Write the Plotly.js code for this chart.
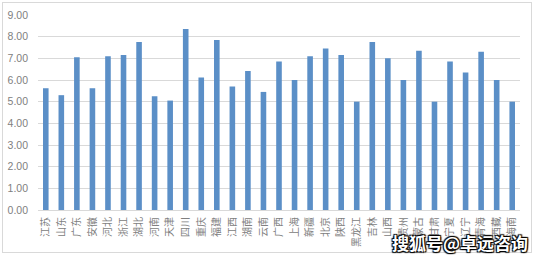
<!DOCTYPE html>
<html>
<head>
<meta charset="utf-8">
<script src="https://cdn.plot.ly/plotly-3.0.1.min.js"></script>
<style>
html,body{margin:0;padding:0;background:#fff;}
#frame{position:absolute;left:2px;top:2px;width:530px;height:251px;border:1px solid #d9d9d9;box-sizing:border-box;}
#chart{position:absolute;left:0;top:0;width:535px;height:257px;}
</style>
</head>
<body>
<div id="frame"></div>
<div id="chart"></div>
<script>
const provinces = ["江苏","山东","广东","安徽","河北","浙江","湖北","河南","天津","四川","重庆","福建","江西","湖南","云南","广西","上海","新疆","北京","陕西","黑龙江","吉林","山西","贵州","内蒙古","甘肃","宁夏","辽宁","青海","西藏","海南"];
const values = [5.62,5.30,7.05,5.62,7.10,7.15,7.75,5.25,5.05,8.35,6.12,7.85,5.70,6.42,5.45,6.85,6.00,7.10,7.45,7.15,5.00,7.75,7.00,6.00,7.35,5.00,6.85,6.35,7.30,6.00,5.00];
const yTicks = [0,1,2,3,4,5,6,7,8,9];

const trace = {
  type: 'bar',
  x: provinces,
  y: values,
  marker: {color: '#5b8fc7'},
  width: 0.36,
  hoverinfo: 'x+y'
};

const layout = {
  width: 535, height: 257,
  margin: {l: 38, r: 15, t: 15, b: 47},
  paper_bgcolor: 'rgba(0,0,0,0)',
  plot_bgcolor: 'rgba(0,0,0,0)',
  showlegend: false,
  font: {family: '"Noto Sans CJK SC", "Liberation Sans", sans-serif', color: '#808080', size: 10},
  xaxis: {
    type: 'category',
    tickangle: -90,
    showline: true, linecolor: '#d9d9d9', linewidth: 1,
    ticks: '', showgrid: false,
    tickfont: {size: 10, color: '#808080', family: '"Noto Sans CJK SC", sans-serif'},
    ticklabelstandoff: 2
  },
  yaxis: {
    range: [0, 9],
    tickvals: yTicks,
    ticktext: yTicks.map(v => v.toFixed(2)),
    showgrid: true, gridcolor: '#d9d9d9', gridwidth: 1,
    zeroline: false, showline: false, ticks: '',
    tickfont: {size: 10.5, color: '#808080', family: '"Liberation Sans", Arial, sans-serif'},
    ticklabelstandoff: 9
  },
  annotations: [{
    xref: 'paper', yref: 'paper',
    x: 1.02, y: -0.09, xanchor: 'right', yanchor: 'top',
    text: '<b>搜狐号@卓远咨询</b>', showarrow: false,
    font: {size: 17, color: '#ffffff', family: '"Noto Sans CJK SC", sans-serif', shadow: '1px 1px 1px #000, -1px -1px 1px #000, 1px -1px 1px #000, -1px 1px 1px #000'}
  }]
};

Plotly.newPlot('chart', [trace], layout, {displayModeBar: false, staticPlot: true});
</script>
</body>
</html>
